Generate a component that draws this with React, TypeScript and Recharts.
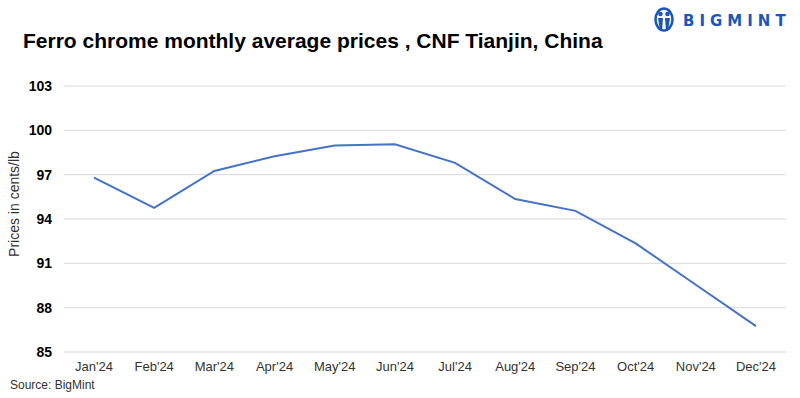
import React from 'react';
import { LineChart, Line, XAxis, YAxis, CartesianGrid } from 'recharts';

const months = ["Jan'24", "Feb'24", "Mar'24", "Apr'24", "May'24", "Jun'24", "Jul'24", "Aug'24", "Sep'24", "Oct'24", "Nov'24", "Dec'24"];
const prices = [96.8, 94.75, 97.25, 98.25, 98.98, 99.05, 97.8, 95.35, 94.55, 92.35, 89.55, 86.75];
const yTicks = [85, 88, 91, 94, 97, 100, 103];

const data = months.map((m, i) => ({ month: m, price: prices[i] }));

const FONT = '"Liberation Sans", Arial, Helvetica, sans-serif';

export default function App() {
  return (
    <div style={{ position: 'absolute', left: 0, top: 0, width: 800, height: 398, background: '#fff', fontFamily: FONT }}>
      <div style={{ position: 'absolute', left: 23, top: 29, fontSize: 21, fontWeight: 'bold', color: '#000', whiteSpace: 'nowrap' }}>
        Ferro chrome monthly average prices , CNF Tianjin, China
      </div>
      <div style={{ position: 'absolute', left: 654, top: 7, display: 'flex', alignItems: 'center' }}>
        <svg width={20} height={27} viewBox="0 0 20 27">
          <ellipse cx={10} cy={12.5} rx={8.5} ry={11} fill="none" stroke="#1b57b8" strokeWidth={2.6} />
          <circle cx={6.5} cy={7} r={2.3} fill="#1b57b8" />
          <circle cx={13.5} cy={7} r={2.3} fill="#1b57b8" />
          <path d="M4 11 L9 11 L8 24 L6 24 Z" fill="#1b57b8" />
          <path d="M11 11 L16 11 L14 24 L12 24 Z" fill="#1b57b8" />
        </svg>
        <div style={{ marginLeft: 9, fontSize: 15, fontWeight: 'bold', color: '#1b57b8', letterSpacing: 5, fontFamily: '"DejaVu Sans", sans-serif' }}>BIGMINT</div>
      </div>
      <div style={{ position: 'absolute', left: 0, top: 0 }}>
        <LineChart width={800} height={398} data={data} margin={{ top: 86, right: 14, bottom: 16, left: 0 }}>
          <CartesianGrid horizontal={true} vertical={false} stroke="#d9d9d9" strokeWidth={1} />
          <XAxis
            dataKey="month"
            axisLine={false}
            tickLine={false}
            tickSize={0}
            tickMargin={10}
            height={30}
            interval={0}
            padding={{ left: 30, right: 30 }}
            tick={{ fill: '#333', fontSize: 13, fontFamily: FONT }}
          />
          <YAxis
            domain={[85, 103]}
            ticks={yTicks}
            width={64}
            axisLine={false}
            tickLine={false}
            tickSize={0}
            tickMargin={12}
            interval={0}
            tick={{ fill: '#000', fontSize: 14, fontWeight: 'bold', fontFamily: FONT }}
          />
          <Line type="linear" dataKey="price" stroke="#4472c4" strokeWidth={2} dot={false} isAnimationActive={false} />
        </LineChart>
      </div>
      <div style={{ position: 'absolute', left: 14, top: 204, transform: 'translate(-50%, -50%) rotate(-90deg)', fontSize: 14, color: '#333', whiteSpace: 'nowrap' }}>
        Prices in cents/lb
      </div>
      <div style={{ position: 'absolute', left: 10, top: 378, fontSize: 12, color: '#333', whiteSpace: 'nowrap' }}>
        Source: BigMint
      </div>
    </div>
  );
}
